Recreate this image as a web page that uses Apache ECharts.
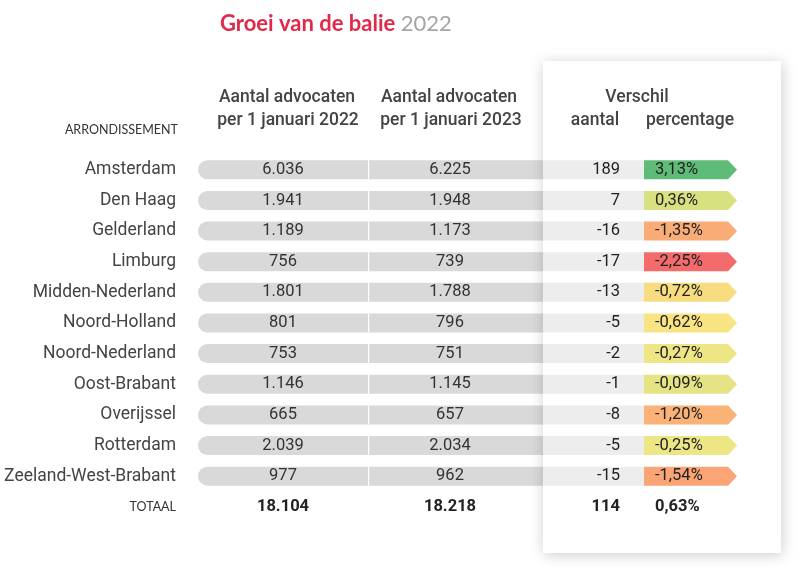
<!DOCTYPE html>
<html><head><meta charset="utf-8">
<script src="https://cdn.jsdelivr.net/npm/echarts@6/dist/echarts.min.js"></script>
<style>html,body{margin:0;padding:0;background:#fff}#c{width:800px;height:567px}</style>
</head><body><div id="c"></div>
<script>
// ---- data ----
const regions = ['Amsterdam','Den Haag','Gelderland','Limburg','Midden-Nederland','Noord-Holland','Noord-Nederland','Oost-Brabant','Overijssel','Rotterdam','Zeeland-West-Brabant'];
const count2022 = [6036,1941,1189,756,1801,801,753,1146,665,2039,977];
const count2023 = [6225,1948,1173,739,1788,796,751,1145,657,2034,962];
const diffCount = [189,7,-16,-17,-13,-5,-2,-1,-8,-5,-15];
const diffPct = [3.13,0.36,-1.35,-2.25,-0.72,-0.62,-0.27,-0.09,-1.20,-0.25,-1.54];
const totalLabel = 'TOTAAL';
const total2022 = 18104;
const total2023 = 18218;
const totalDiff = 114;
const totalPct = 0.63;
const titleText = 'Groei van de balie';
const titleYear = '2022';
const headerCol1 = ['Aantal advocaten','per 1 januari 2022'];
const headerCol2 = ['Aantal advocaten','per 1 januari 2023'];
const headerDiff = 'Verschil';
const headerAantal = 'aantal';
const headerPct = 'percentage';
const headerRegion = 'ARRONDISSEMENT';

// ---- formatting ----
function fmtInt(n){ const s=String(Math.abs(n)).replace(/\B(?=(\d{3})+(?!\d))/g,'.'); return (n<0?'-':'')+s; }
function fmtPct(n){ return n.toFixed(2).replace('.',',')+'%'; }

// colour scale for percentage arrows
const stops = [[-2.25,[244,107,108]],[-1.54,[251,164,117]],[-1.2,[250,178,119]],[-0.72,[247,220,128]],[-0.6,[248,229,131]],[-0.27,[238,230,133]],[0,[224,226,130]],[0.36,[215,225,127]],[3.13,[95,187,120]]];
function pctColor(v){
  if(v<=stops[0][0]) return 'rgb('+stops[0][1].join(',')+')';
  for(let i=1;i<stops.length;i++){
    if(v<=stops[i][0]){
      const a=stops[i-1], b=stops[i], t=(v-a[0])/(b[0]-a[0]);
      const c=a[1].map((x,k)=>Math.round(x+(b[1][k]-x)*t));
      return 'rgb('+c.join(',')+')';
    }
  }
  return 'rgb('+stops[stops.length-1][1].join(',')+')';
}

const categories = regions.concat([totalLabel]);
const FONT = 'Roboto';
const L = {pillL:198, pillR:543, div:368, c1:283, c2:450, cardL:543, cardR:781, cntR:620, arrL:644, arrR:728, tip:737, pctL:655, h:19};
const HF = 17.5;

const chart = echarts.init(document.getElementById('c'));
chart.setOption({
  backgroundColor:'#fff',
  animation:false,
  title:{
    text: titleText+' {y|'+titleYear+'}', left:215, top:8,
    textStyle:{fontFamily:'Lato', fontSize:22, fontWeight:'bold', color:'#e0294b',
      rich:{y:{fontFamily:'Lato', fontSize:22, fontWeight:'normal', color:'#a5a5a5'}}}
  },
  grid:{left:198, right:0, top:154.5, height:367.6},
  xAxis:{type:'value', min:0, max:602, show:false},
  yAxis:{type:'category', inverse:true, data:categories,
    axisLine:{show:false}, axisTick:{show:false}, splitLine:{show:false},
    axisLabel:{margin:22, fontSize:17.5, color:'#444', fontFamily:FONT,
      formatter:v=> v===totalLabel ? '{t|'+v+'}' : v,
      rich:{t:{fontSize:12.5, fontFamily:'Lato', color:'#333'}}}
  },
  graphic:[
    {type:'rect', z:5, shape:{x:L.cardL, y:61, width:L.cardR-L.cardL, height:492},
      style:{fill:'#fff', shadowBlur:14, shadowColor:'rgba(0,0,0,0.2)', shadowOffsetX:1, shadowOffsetY:2}},
    {type:'text', z:20, x:178, y:130, style:{text:headerRegion, fontFamily:'Lato', fontSize:12.5, fill:'#333', align:'right', verticalAlign:'middle'}},
    {type:'text', z:20, x:287, y:98, style:{text:headerCol1[0], fontFamily:FONT, fontSize:HF, fontWeight:500, fill:'#444', align:'center', verticalAlign:'middle'}},
    {type:'text', z:20, x:288, y:121, style:{text:headerCol1[1], fontFamily:FONT, fontSize:HF, fontWeight:500, fill:'#444', align:'center', verticalAlign:'middle'}},
    {type:'text', z:20, x:449, y:98, style:{text:headerCol2[0], fontFamily:FONT, fontSize:HF, fontWeight:500, fill:'#444', align:'center', verticalAlign:'middle'}},
    {type:'text', z:20, x:451, y:121, style:{text:headerCol2[1], fontFamily:FONT, fontSize:HF, fontWeight:500, fill:'#444', align:'center', verticalAlign:'middle'}},
    {type:'text', z:20, x:637, y:98, style:{text:headerDiff, fontFamily:FONT, fontSize:HF, fontWeight:500, fill:'#444', align:'center', verticalAlign:'middle'}},
    {type:'text', z:20, x:595, y:121, style:{text:headerAantal, fontFamily:FONT, fontSize:HF, fontWeight:500, fill:'#444', align:'center', verticalAlign:'middle'}},
    {type:'text', z:20, x:690, y:121, style:{text:headerPct, fontFamily:FONT, fontSize:HF, fontWeight:500, fill:'#444', align:'center', verticalAlign:'middle'}}
  ],
  series:[
    {
      type:'custom', z:1, coordinateSystem:'cartesian2d',
      data: regions.map((r,i)=>[0,i,count2022[i],count2023[i]]),
      encode:{x:0,y:1},
      renderItem:(params,api)=>{
        const y = api.coord([0, api.value(1)])[1];
        const h = L.h;
        return {type:'group', children:[
          {type:'rect', shape:{x:L.pillL, y:y-h/2, width:L.pillR-L.pillL, height:h, r:[h/2,0,0,h/2]}, style:{fill:'#d9d9d9'}},
          {type:'rect', shape:{x:L.div, y:y-h/2, width:1.2, height:h}, style:{fill:'#fff'}},
          {type:'text', x:L.c1, y:y, style:{text:fmtInt(api.value(2)), fontFamily:FONT, fontSize:16.5, fill:'#333', align:'center', verticalAlign:'middle'}},
          {type:'text', x:L.c2, y:y, style:{text:fmtInt(api.value(3)), fontFamily:FONT, fontSize:16.5, fill:'#333', align:'center', verticalAlign:'middle'}}
        ]};
      }
    },
    {
      type:'custom', z:10, coordinateSystem:'cartesian2d',
      data: regions.map((r,i)=>[0,i,diffCount[i],diffPct[i]]),
      encode:{x:0,y:1},
      renderItem:(params,api)=>{
        const y = api.coord([0, api.value(1)])[1];
        const h = L.h;
        const p = api.value(3);
        return {type:'group', children:[
          {type:'rect', shape:{x:L.cardL, y:y-h/2, width:L.arrL-L.cardL, height:h}, style:{fill:'#ededed'}},
          {type:'polygon', shape:{points:[[L.arrL,y-h/2],[L.arrR,y-h/2],[L.tip,y],[L.arrR,y+h/2],[L.arrL,y+h/2]]}, style:{fill:pctColor(p)}},
          {type:'text', x:L.cntR, y:y, style:{text:fmtInt(api.value(2)), fontFamily:FONT, fontSize:16.5, fill:'#222', align:'right', verticalAlign:'middle'}},
          {type:'text', x:L.pctL, y:y, style:{text:fmtPct(p), fontFamily:FONT, fontSize:16.5, fill:'#222', align:'left', verticalAlign:'middle'}}
        ]};
      }
    },
    {
      type:'custom', z:10, coordinateSystem:'cartesian2d',
      data: [[0, regions.length, total2022, total2023, totalDiff, totalPct]],
      encode:{x:0,y:1},
      renderItem:(params,api)=>{
        const y = api.coord([0, api.value(1)])[1];
        const st = {fontFamily:FONT, fontSize:16.5, fontWeight:'bold', fill:'#222', verticalAlign:'middle'};
        return {type:'group', children:[
          {type:'text', x:L.c1, y:y, style:Object.assign({text:fmtInt(api.value(2)), align:'center'}, st)},
          {type:'text', x:L.c2, y:y, style:Object.assign({text:fmtInt(api.value(3)), align:'center'}, st)},
          {type:'text', x:L.cntR, y:y, style:Object.assign({text:fmtInt(api.value(4)), align:'right'}, st)},
          {type:'text', x:L.pctL, y:y, style:Object.assign({text:fmtPct(api.value(5)), align:'left'}, st)}
        ]};
      }
    }
  ]
});
</script>
</body></html>
